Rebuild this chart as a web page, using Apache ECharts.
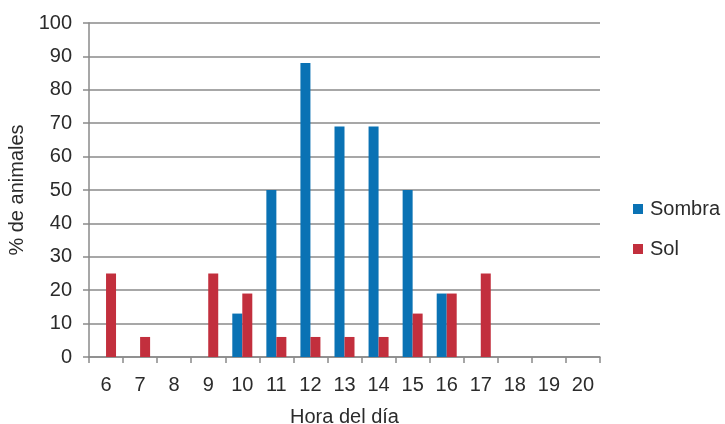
<!DOCTYPE html>
<html>
<head>
<meta charset="utf-8">
<script src="https://cdn.jsdelivr.net/npm/echarts@6/dist/echarts.min.js"></script>
<style>
  html, body { margin: 0; padding: 0; background: #fff; }
  #chart { width: 725px; height: 424px; }
</style>
</head>
<body>
<div id="chart"></div>
<script>
// Hours of the day (x axis categories)
const hours = ['6','7','8','9','10','11','12','13','14','15','16','17','18','19','20'];
// Percentage of animals in shade / in sun per hour
const sombra = [0, 0, 0, 0, 13, 50, 88, 69, 69, 50, 19, 0, 0, 0, 0];
const sol = [25, 6, 0, 25, 19, 6, 6, 6, 6, 13, 19, 25, 0, 0, 0];

const font = '"Liberation Sans", Arial, sans-serif';
const textColor = '#2b2b2b';
const lineColor = '#8a8a8a';
const fs = 20;

const chart = echarts.init(document.getElementById('chart'), null, { renderer: 'canvas' });
chart.setOption({
  animation: false,
  textStyle: { fontFamily: font },
  grid: { left: 89, right: 125, top: 23, bottom: 67, containLabel: false, outerBoundsMode: 'none' },
  legend: {
    orient: 'vertical',
    left: 628,
    top: 194,
    itemWidth: 10,
    itemHeight: 10,
    itemGap: 20,
    icon: 'rect',
    textStyle: { fontFamily: font, fontSize: fs, color: textColor, padding: [0, 0, 0, 2] },
    data: ['Sombra', 'Sol']
  },
  xAxis: {
    type: 'category',
    data: hours,
    boundaryGap: true,
    name: 'Hora del día',
    nameLocation: 'middle',
    nameGap: 50,
    nameTextStyle: { fontFamily: font, fontSize: fs, color: textColor },
    axisLine: { show: true, lineStyle: { color: lineColor, width: 1.5 } },
    axisTick: { show: true, alignWithLabel: false, length: 6, lineStyle: { color: lineColor, width: 1.5 } },
    axisLabel: { fontFamily: font, fontSize: fs, color: textColor, margin: 18 },
    splitLine: { show: false }
  },
  yAxis: {
    type: 'value',
    min: 0,
    max: 100,
    interval: 10,
    name: '% de animales',
    nameLocation: 'middle',
    nameGap: 60,
    nameRotate: 90,
    nameTextStyle: { fontFamily: font, fontSize: fs, color: textColor },
    axisLine: { show: true, lineStyle: { color: lineColor, width: 1.5 } },
    axisTick: { show: true, length: 6, lineStyle: { color: lineColor, width: 1.5 } },
    axisLabel: { fontFamily: font, fontSize: fs, color: textColor, margin: 17 },
    splitLine: { show: true, lineStyle: { color: lineColor, width: 1.5 } }
  },
  series: [
    {
      name: 'Sombra',
      type: 'bar',
      data: sombra,
      barWidth: 10,
      barGap: '0%',
      itemStyle: { color: '#0a72b4' }
    },
    {
      name: 'Sol',
      type: 'bar',
      data: sol,
      barWidth: 10,
      barGap: '0%',
      itemStyle: { color: '#c22f3d' }
    }
  ]
});
</script>
</body>
</html>
